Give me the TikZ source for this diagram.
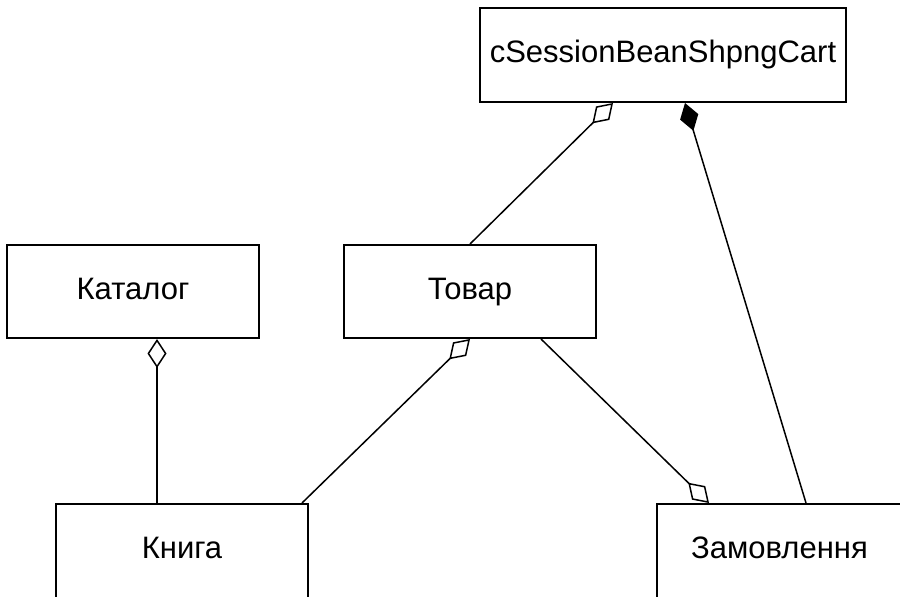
\documentclass[tikz,border=0pt]{standalone}
\usepackage{fontspec}
\setmainfont{Liberation Sans}
\usetikzlibrary{arrows.meta}

\tikzset{
  classbox/.style={draw=black, line width=2pt, rectangle, inner sep=0pt,
    text height=22pt, text depth=6.5pt,
    font=\fontsize{31}{36}\selectfont},
  assoc/.style={draw=black, line width=1.5pt},
  aggr/.style={assoc, -{Diamond[open, length=29pt, width=19pt, line width=1.5pt]}},
  comp/.style={assoc, -{Diamond[length=29pt, width=19pt]}}
}

\begin{document}
\begin{tikzpicture}[x=1pt, y=-1pt]
  \useasboundingbox (0,0) rectangle (900,597);

  % classes
  \node[classbox, minimum width=366pt, minimum height=94pt] (cart) at (663,55) {cSessionBeanShpngCart};
  \node[classbox, minimum width=252pt, minimum height=93pt] (katalog) at (133,291.5) {Каталог};
  \node[classbox, minimum width=252pt, minimum height=93pt] (tovar) at (470,291.5) {Товар};
  \node[classbox, minimum width=252pt, minimum height=94pt] (knyha) at (182,551) {Книга};
  \node[classbox, minimum width=245pt, minimum height=94pt] (zamovl) at (779.5,551) {Замовлення};

  % associations
  \draw[aggr] (tovar.north) -- ([xshift=134pt]cart.south west);
  \draw[comp] ([xshift=150pt]zamovl.north west) -- ([xshift=206pt]cart.south west);
  \draw[aggr] ([xshift=102pt]knyha.north west) -- ([xshift=151pt]katalog.south west);
  \draw[aggr] ([xshift=247pt]knyha.north west) -- (tovar.south);
  \draw[aggr] ([xshift=198pt]tovar.south west) -- ([xshift=53pt]zamovl.north west);
\end{tikzpicture}
\end{document}
